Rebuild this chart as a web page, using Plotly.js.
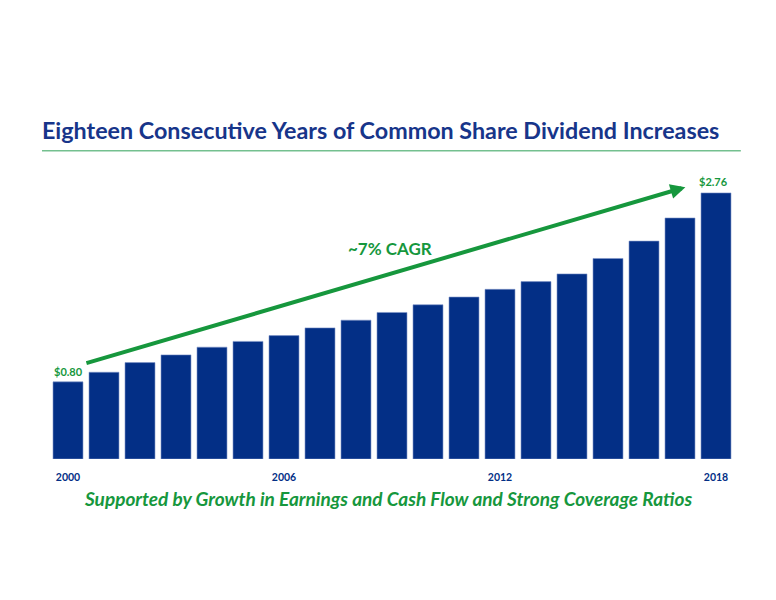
<!DOCTYPE html>
<html>
<head>
<meta charset="utf-8">
<script src="https://cdn.plot.ly/plotly-3.0.1.min.js"></script>
<style>
  html, body { margin: 0; padding: 0; background: #fff; }
  #chart { width: 776px; height: 600px; }
</style>
</head>
<body>
<div id="chart"></div>
<script>
// common share dividend per year
var years = [2000, 2001, 2002, 2003, 2004, 2005, 2006, 2007, 2008, 2009,
             2010, 2011, 2012, 2013, 2014, 2015, 2016, 2017, 2018];
var dividends = [0.80, 0.90, 1.00, 1.08, 1.16, 1.22, 1.28, 1.36, 1.44, 1.52,
                 1.60, 1.68, 1.76, 1.84, 1.92, 2.08, 2.26, 2.50, 2.76];
var tickYears = [2000, 2006, 2012, 2018];

var navy = '#032f86';
var green = '#16973d';
var fontFam = 'Lato, "Open Sans", sans-serif';

var first = dividends[0];
var last = dividends[dividends.length - 1];

var data = [{
  x: years,
  y: dividends,
  type: 'bar',
  marker: { color: navy, line: { color: '#7f95c9', width: 0.6 } },
  hoverinfo: 'x+y'
}];

var layout = {
  width: 776,
  height: 600,
  margin: { l: 50, r: 42, t: 180, b: 141 },
  paper_bgcolor: '#fff',
  plot_bgcolor: '#fff',
  showlegend: false,
  bargap: 0.167,
  font: { family: fontFam },
  title: {
    text: '<b>Eighteen Consecutive Years of Common Share Dividend Increases</b>',
    font: { family: fontFam, size: 23.3, color: '#17358a' },
    xref: 'container', yref: 'container',
    x: 42 / 776, xanchor: 'left',
    y: 1 - 131 / 600, yanchor: 'middle'
  },
  xaxis: {
    range: [1999.5, 2018.5],
    tickvals: tickYears,
    ticktext: tickYears.map(function (y) { return '<b>' + y + '</b>'; }),
    tickfont: { size: 10.5, color: navy, family: fontFam },
    showgrid: false, zeroline: false, showline: false,
    ticks: 'outside', ticklen: 8, tickcolor: 'rgba(0,0,0,0)'
  },
  yaxis: {
    range: [0, 2.894],
    visible: false
  },
  shapes: [{
    type: 'line', xref: 'paper', yref: 'paper',
    x0: -0.0117, x1: 1.010, y0: 1.105, y1: 1.105,
    line: { color: '#74c08f', width: 1.5 }
  }],
  annotations: [
    {
      x: years[0], y: first, text: '<b>$' + first.toFixed(2) + '</b>',
      showarrow: false, yanchor: 'bottom', yshift: 2,
      font: { size: 11, color: green, family: fontFam }
    },
    {
      x: years[years.length - 1], y: last, text: '<b>$' + last.toFixed(2) + '</b>',
      showarrow: false, yanchor: 'bottom', yshift: 3, xshift: -3,
      font: { size: 11, color: green, family: fontFam }
    },
    {
      x: 2017.15, y: 2.82, ax: 2000.47, ay: 0.99,
      xref: 'x', yref: 'y', axref: 'x', ayref: 'y',
      text: '', showarrow: true,
      arrowhead: 2, arrowsize: 0.75, arrowwidth: 4, arrowcolor: green
    },
    {
      x: 2008.94, y: 2.18, text: '<b>~7% CAGR</b>',
      showarrow: false,
      font: { size: 17, color: green, family: fontFam }
    },
    {
      xref: 'paper', yref: 'paper', x: 0.494, y: -0.19,
      text: '<b><i>Supported by Growth in Earnings and Cash Flow and Strong Coverage Ratios</i></b>',
      showarrow: false,
      font: { size: 19, color: green, family: fontFam }
    }
  ]
};

Plotly.newPlot('chart', data, layout, { displayModeBar: false, staticPlot: true });
</script>
</body>
</html>
